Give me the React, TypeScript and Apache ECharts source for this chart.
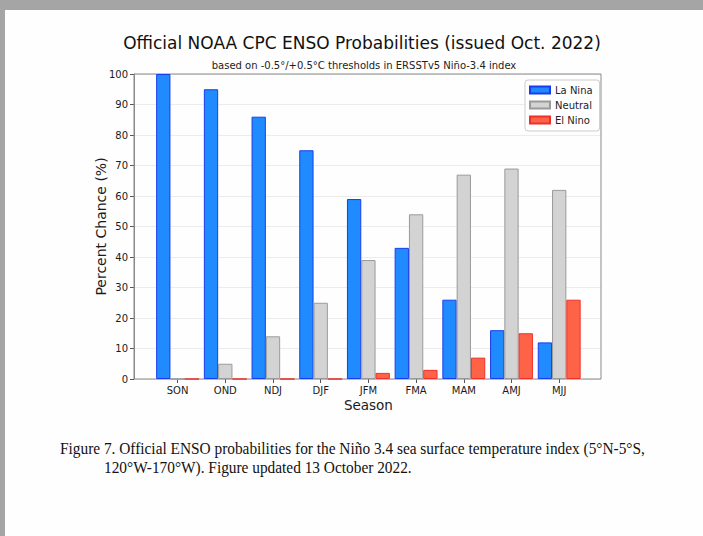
import React, { useEffect, useRef } from "react";
import * as echarts from "echarts";

const seasons = ["SON", "OND", "NDJ", "DJF", "JFM", "FMA", "MAM", "AMJ", "MJJ"];
const laNina = [100, 95, 86, 75, 59, 43, 26, 16, 12];
const neutral = [0, 5, 14, 25, 39, 54, 67, 69, 62];
const elNino = [0, 0, 0, 0, 2, 3, 7, 15, 26];
const seriesNames = ["La Nina", "Neutral", "El Nino"];

const titleText = "Official NOAA CPC ENSO Probabilities (issued Oct. 2022)";
const subtitleText = "based on -0.5°/+0.5°C thresholds in ERSSTv5 Niño-3.4 index";
const yAxisTitle = "Percent Chance (%)";
const xAxisTitle = "Season";
const captionLine1 =
  "Figure 7. Official ENSO probabilities for the Niño 3.4 sea surface temperature index (5°N-5°S,";
const captionLine2 = "120°W-170°W). Figure updated 13 October 2022.";

const SANS = "DejaVu Sans";
const SERIF = "Liberation Serif";

export default function App() {
  const ref = useRef<HTMLDivElement>(null);
  useEffect(() => {
    if (!ref.current) return;
    const chart = echarts.init(ref.current, null, { renderer: "svg" });
    const frame = { x: 134, y: 74, w: 467, h: 305 };
    const catLeft = 153.75;
    const catWidth = 429.3;
    chart.setOption({
      animation: false,
      backgroundColor: "#fefefe",
      textStyle: { fontFamily: SANS },
      grid: [
        { left: frame.x, top: frame.y, width: frame.w, height: frame.h, containLabel: false },
        { left: catLeft, top: frame.y, width: catWidth, height: frame.h, containLabel: false },
      ],
      legend: {
        data: seriesNames,
        orient: "vertical",
        left: 525,
        top: 80,
        icon: "rect",
        itemWidth: 20,
        itemHeight: 7,
        itemGap: 5,
        padding: [5, 7, 6, 4],
        borderColor: "#cccccc",
        borderWidth: 1,
        borderRadius: 3,
        backgroundColor: "#ffffff",
        textStyle: { fontSize: 10, color: "#222", fontFamily: SANS },
      },
      xAxis: [
        { gridIndex: 0, type: "value", min: 0, max: 1, show: false },
        {
          gridIndex: 1,
          type: "category",
          data: seasons,
          boundaryGap: true,
          axisLine: { show: false },
          axisTick: { show: true, alignWithLabel: true, length: 4, lineStyle: { color: "#555" } },
          axisLabel: { fontSize: 10, color: "#1a1a1a", margin: 6, fontFamily: SANS },
          splitLine: { show: false },
          name: xAxisTitle,
          nameLocation: "middle",
          nameGap: 19,
          nameMoveOverlap: false,
          nameTextStyle: { fontSize: 13.5, color: "#1a1a1a", fontFamily: SANS },
        },
      ],
      yAxis: [
        {
          gridIndex: 0,
          type: "value",
          min: 0,
          max: 100,
          interval: 10,
          axisLine: { show: true, lineStyle: { color: "#888" } },
          axisTick: { show: true, length: 4, lineStyle: { color: "#555" } },
          axisLabel: { fontSize: 10, color: "#1a1a1a", margin: 6, fontFamily: SANS },
          splitLine: { show: true, lineStyle: { color: "#ececec", width: 1 } },
          name: yAxisTitle,
          nameLocation: "middle",
          nameGap: 26,
          nameMoveOverlap: false,
          nameRotate: 90,
          nameTextStyle: { fontSize: 14, color: "#1a1a1a", fontFamily: SANS },
        },
        { gridIndex: 1, type: "value", min: 0, max: 100, show: false },
      ],
      series: [
        {
          name: seriesNames[0],
          type: "bar",
          xAxisIndex: 1,
          yAxisIndex: 1,
          data: laNina,
          barWidth: 14.3,
          barGap: "0%",
          itemStyle: { color: "#1f8bff", borderColor: "#1a3cf0", borderWidth: 1 },
        },
        {
          name: seriesNames[1],
          type: "bar",
          xAxisIndex: 1,
          yAxisIndex: 1,
          data: neutral,
          barWidth: 14.3,
          barGap: "0%",
          itemStyle: { color: "#d3d3d3", borderColor: "#9a9a9a", borderWidth: 1 },
        },
        {
          name: seriesNames[2],
          type: "bar",
          xAxisIndex: 1,
          yAxisIndex: 1,
          data: elNino,
          barWidth: 14.3,
          barGap: "0%",
          itemStyle: { color: "#ff6347", borderColor: "#f0302a", borderWidth: 1 },
        },
      ],
      graphic: [
        { type: "rect", silent: true, z: -10, shape: { x: 0, y: 0, width: 703, height: 10 }, style: { fill: "#a5a5a5" } },
        { type: "rect", silent: true, z: -10, shape: { x: 0, y: 0, width: 5, height: 536 }, style: { fill: "#a5a5a5" } },
        {
          type: "rect",
          silent: true,
          z: 1,
          shape: { x: frame.x, y: frame.y, width: frame.w, height: frame.h },
          style: { fill: "none", stroke: "#8a8a8a", lineWidth: 1 },
        },
        {
          type: "text",
          silent: true,
          x: 362,
          y: 43,
          style: { text: titleText, fontSize: 17, fontFamily: SANS, fill: "#111", align: "center", verticalAlign: "middle" },
        },
        {
          type: "text",
          silent: true,
          x: 364,
          y: 65,
          style: { text: subtitleText, fontSize: 10, fontFamily: SANS, fill: "#222", align: "center", verticalAlign: "middle" },
        },
        {
          type: "text",
          silent: true,
          x: 60,
          y: 448,
          scaleX: 0.96,
          style: { text: captionLine1, fontSize: 16, fontFamily: SERIF, fill: "#111", align: "left", verticalAlign: "middle" },
        },
        {
          type: "text",
          silent: true,
          x: 104,
          y: 467.5,
          scaleX: 0.96,
          style: { text: captionLine2, fontSize: 16, fontFamily: SERIF, fill: "#111", align: "left", verticalAlign: "middle" },
        },
      ],
    });
    return () => chart.dispose();
  }, []);
  return (
    <div
      ref={ref}
      style={{ position: "fixed", left: 0, top: 0, width: 703, height: 536, background: "#fefefe" }}
    />
  );
}
